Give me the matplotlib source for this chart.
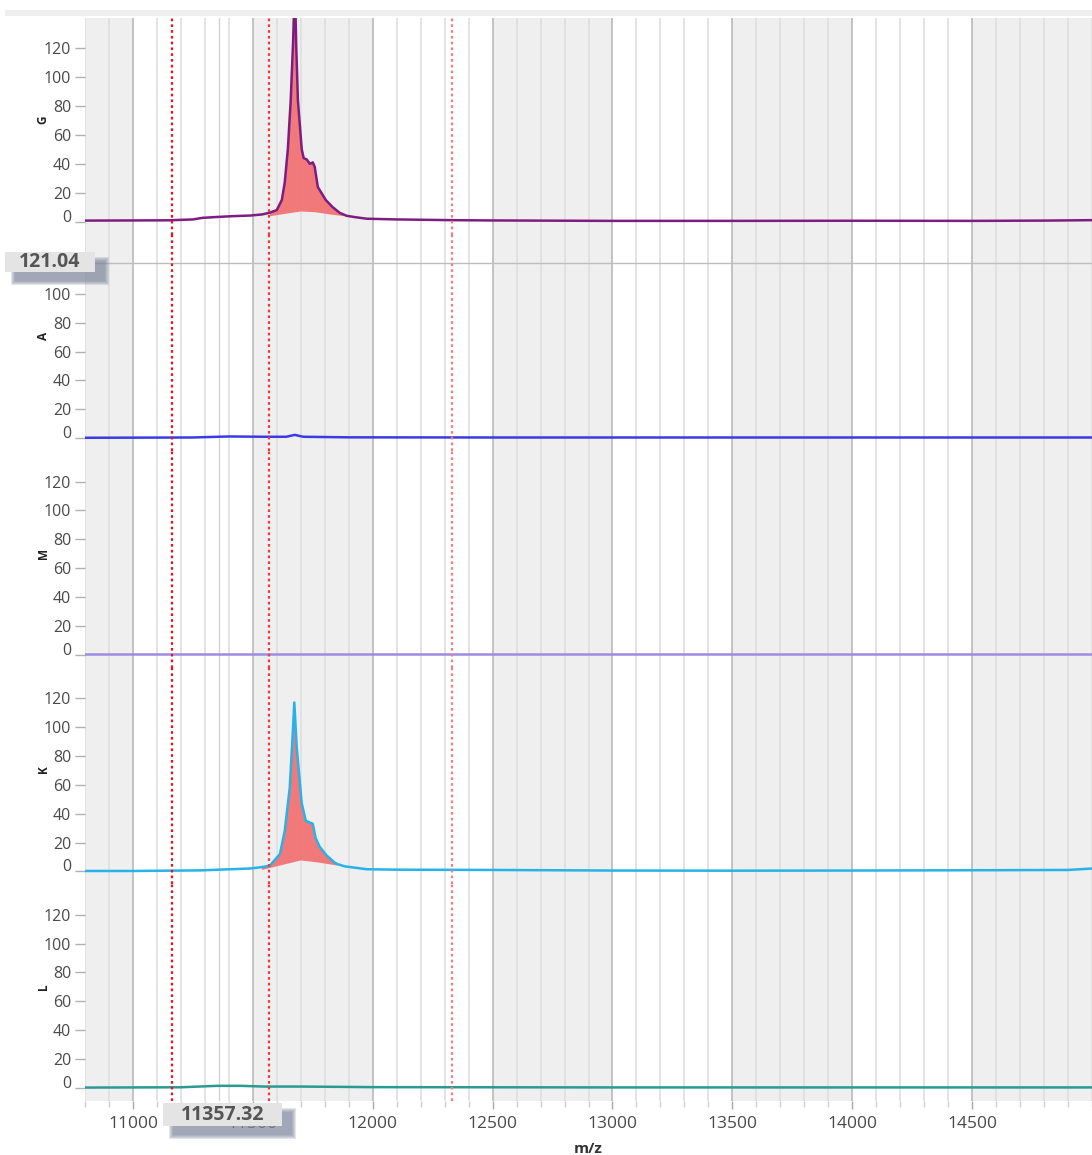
import numpy as np
import matplotlib
matplotlib.use('Agg')
import matplotlib.pyplot as plt
from matplotlib.patches import Rectangle
import matplotlib.transforms as mtransforms

plt.rcParams['font.family'] = ['Open Sans', 'DejaVu Sans']

# --- data ---
channels = ['G', 'A', 'M', 'K', 'L']
line_colors = ['#7d1d82', '#3b3be6', '#9d8ce2', '#27b2ea', '#2b9a93']

g_mz = [10800, 11000, 11150, 11250, 11290, 11350, 11420, 11490, 11540, 11571,
        11600, 11621, 11633, 11646, 11658, 11668, 11675, 11681, 11688, 11704,
        11712, 11725, 11738, 11750, 11758, 11771, 11804, 11833, 11863, 11892,
        11930, 11975, 12100, 12329, 12500, 13000, 13500, 14000, 14500, 14800, 15000]
g_int = [0.7, 0.8, 0.9, 1.5, 2.6, 3.2, 3.8, 4.2, 5.0, 6.2,
         8, 15, 27, 50, 84, 125, 165, 122, 84, 50,
         44, 43, 40, 41, 38, 24, 15, 10, 6, 4,
         3, 2, 1.5, 1.0, 0.8, 0.5, 0.5, 0.6, 0.5, 0.7, 1.0]
g_base_mz = [11571, 11640, 11700, 11760, 11820, 11892]
g_base = [3.7, 5.5, 7.0, 6.5, 5.0, 3.5]

a_mz = [10800, 11250, 11400, 11550, 11640, 11675, 11710, 11900, 12500, 15000]
a_int = [0.3, 0.5, 1.2, 1.0, 1.0, 2.3, 1.0, 0.6, 0.5, 0.5]

m_mz = [10800, 12000, 13500, 15000]
m_int = [0.3, 0.3, 0.3, 0.3]

k_mz = [10800, 11000, 11280, 11488, 11538, 11571, 11613, 11633, 11654, 11667,
        11673, 11683, 11704, 11721, 11750, 11762, 11779, 11808, 11842, 11854,
        11883, 11975, 12100, 12500, 13000, 13500, 14000, 14500, 14900, 15000]
k_int = [0.3, 0.3, 0.7, 2.0, 3.0, 4.0, 12, 28, 58, 97,
         117, 86, 47, 35, 33, 23, 17, 11, 6, 5,
         3.5, 1.5, 1.2, 1.0, 0.6, 0.5, 0.6, 0.8, 1.0, 2.0]
k_base_mz = [11538, 11600, 11700, 11780, 11854]
k_base = [1.0, 3.5, 7.6, 6.0, 4.0]

l_mz = [10800, 11200, 11350, 11450, 11550, 11700, 12000, 13000, 15000]
l_int = [0.3, 0.5, 1.5, 1.5, 1.0, 1.0, 0.6, 0.4, 0.4]

series = [(g_mz, g_int), (a_mz, a_int), (m_mz, m_int), (k_mz, k_int), (l_mz, l_int)]
fills = {0: (g_base_mz, g_base), 3: (k_base_mz, k_base)}

marker_lines = [11162, 11567, 12329]
marker_colors = ['#e8141c', '#ee3a3a', '#f47f7f']
cursor_mz = 11357.32
cursor_y = 121.04

y_ticks = [0, 20, 40, 60, 80, 100, 120]
x_major = [11000, 11500, 12000, 12500, 13000, 13500, 14000, 14500]
x_minor = list(range(10800, 15001, 100))
bands = [(10500, 11000), (11500, 12000), (12500, 13000), (13500, 14000), (14500, 15000)]

# --- layout ---
W, H = 1092, 1155
fig = plt.figure(figsize=(W / 100, H / 100), dpi=100)

def fx(px):
    return px / W

def fy(py):
    return 1 - py / H

top = 18
panel_h = 216.6
axes = []
for i, name in enumerate(channels):
    bottom_px = top + (i + 1) * panel_h
    ax = fig.add_axes([fx(85), fy(bottom_px), fx(1007), panel_h / H])
    axes.append(ax)

for i, ax in enumerate(axes):
    ax.set_xlim(10800, 15000)
    ax.set_ylim(-9, 141)
    for lo, hi in bands:
        ax.axvspan(lo, hi, color='#efefef', lw=0, zorder=0)
    ax.set_xticks(x_major)
    ax.set_xticks(x_minor, minor=True)
    ax.grid(which='minor', axis='x', color='#e0e0e0', lw=1.3, zorder=0.5)
    ax.grid(which='major', axis='x', color='#b4b4b4', lw=1.1, zorder=0.6)
    ax.set_axisbelow(True)
    for s in ax.spines.values():
        s.set_visible(False)

    ax.axvline(cursor_mz, color='#d2d2d2', lw=1, zorder=1)

    mz, val = series[i]
    if i in fills:
        bmz, bval = fills[i]
        seg_mz = [m for m in mz if bmz[0] <= m <= bmz[-1]]
        seg_val = [v for m, v in zip(mz, val) if bmz[0] <= m <= bmz[-1]]
        poly_x = np.concatenate([seg_mz, bmz[::-1]])
        poly_y = np.concatenate([seg_val, bval[::-1]])
        ax.fill(poly_x, poly_y, color='#f37373', alpha=0.95, lw=0, zorder=2)
    ax.plot(mz, val, color=line_colors[i], lw=1.8, zorder=3)

    for mx, mc in zip(marker_lines, marker_colors):
        ax.axvline(mx, color=mc, lw=1.6, ls=(0, (1.2, 1.4)), zorder=4)

    ax.set_yticks(y_ticks)
    if i == 1:
        # the 120 label of panel A is hidden under the cursor box
        ax.set_yticklabels([str(t) for t in y_ticks[:-1]] + [''])
    ax.tick_params(axis='y', which='both', length=7, width=1, color='#b0b0b0',
                   labelcolor='#4a4a4a', labelsize=11.5, pad=3)
    ax.set_ylabel(channels[i], fontsize=8.5, fontweight='bold', color='#222222',
                  rotation=90)
    ax.yaxis.set_label_coords(-0.035, 0.53)
    # the zero label sits a bit above its tick
    lab0 = ax.get_yticklabels()[0]
    lab0.set_transform(lab0.get_transform() +
                       mtransforms.ScaledTranslation(0, 0.06, fig.dpi_scale_trans))

    if i < len(axes) - 1:
        ax.tick_params(axis='x', which='both', length=0, labelbottom=False)
    else:
        ax.tick_params(axis='x', which='major', length=6, width=1, color='#a8a8a8',
                       labelcolor='#4a4a4a', labelsize=12.5, pad=5)
        ax.tick_params(axis='x', which='minor', length=4.5, width=1, color='#d0d0d0')
        ax.set_xlabel('m/z', fontsize=11, fontweight='bold', color='#333333', labelpad=7)

# horizontal cursor in panel A
axes[1].axhline(cursor_y, color='#bdbdbd', lw=1, zorder=1)

# top strip
fig.patches.append(Rectangle((fx(5), fy(16)), fx(1087), 6 / H, transform=fig.transFigure,
                             facecolor='#efefef', edgecolor='none', zorder=0))

# cursor value boxes with a soft shadow
def cursor_box(x0, y0, x1, y1, text):
    for k in range(4, -1, -1):
        fig.patches.append(Rectangle((fx(x0 + 10 - k), fy(y1 + 9 + k)),
                                     fx(x1 - x0 + 2 * k), (y1 - y0 + 2 * k) / H,
                                     transform=fig.transFigure, facecolor='#7f869c',
                                     edgecolor='none', alpha=0.22, zorder=10))
    fig.patches.append(Rectangle((fx(x0), fy(y1)), fx(x1 - x0), (y1 - y0) / H,
                                 transform=fig.transFigure, facecolor='#e4e4e4',
                                 edgecolor='none', zorder=11))
    fig.text(fx((x0 + x1) / 2), fy((y0 + y1) / 2), text, ha='center', va='center',
             fontsize=14, fontweight='bold', color='#555555', zorder=12)

cursor_box(5, 252, 95, 272, '121.04')
cursor_box(163, 1103, 282, 1126, '11357.32')

fig.savefig('out.png', dpi=100)
